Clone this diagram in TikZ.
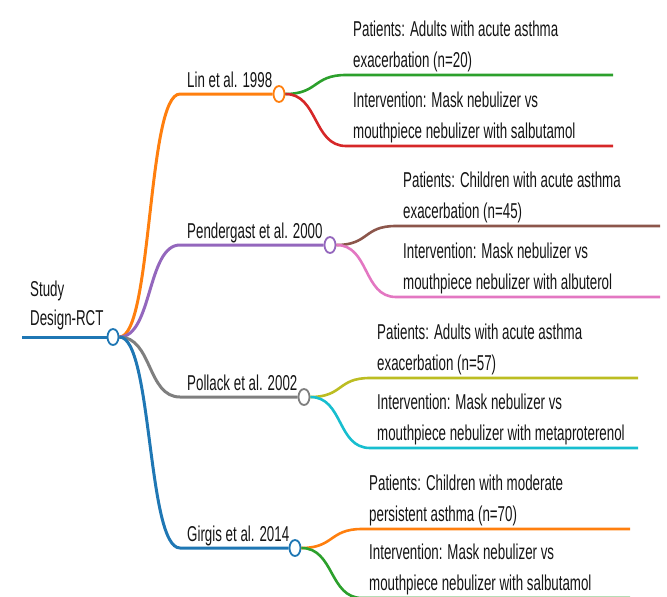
\documentclass[tikz,border=0pt]{standalone}
\usepackage{fontspec}
\setmainfont{Liberation Sans}[FakeStretch=0.62]
\usetikzlibrary{shapes.geometric}
\definecolor{cblue}{HTML}{1F77B4}
\definecolor{corange}{HTML}{FF7F0E}
\definecolor{cgreen}{HTML}{2CA02C}
\definecolor{cred}{HTML}{D62728}
\definecolor{cpurple}{HTML}{9467BD}
\definecolor{cbrown}{HTML}{8C564B}
\definecolor{cpink}{HTML}{E377C2}
\definecolor{cgray}{HTML}{7F7F7F}
\definecolor{colive}{HTML}{BCBD22}
\definecolor{ccyan}{HTML}{17BECF}
\begin{document}
\begin{tikzpicture}[x=1pt, y=-1pt, font=\fontsize{21.5}{31}\selectfont,
    link/.style={line width=3pt},
    leaflink/.style={line width=2.6pt},
    knob/.style={ellipse, draw=#1, fill=white, line width=1.8pt, minimum width=11pt, minimum height=16pt, inner sep=0pt},
    lbl/.style={anchor=base west, inner sep=0pt, text=black!92, align=left}]
  \useasboundingbox (0,0) rectangle (667,597);
  % root
  \node[knob=cblue] (root) at (113,337) {};
  \coordinate (root-in) at (22,337);
  \draw[link, cblue] (root-in) -- (root.west);
  \node[lbl, font=\fontsize{21.5}{29}\selectfont] (root-txt) at (30,325) {Study\\Design-RCT};
  % studies
  \foreach \n/\lab/\col/\y/\cx in {lin/{Lin et al. 1998}/corange/94/279,
      pen/{Pendergast et al. 2000}/cpurple/245/330,
      pol/{Pollack et al. 2002}/cgray/397/304,
      gir/{Girgis et al. 2014}/cblue/548/295} {
    \node[knob=\col] (\n) at (\cx,\y) {};
    \coordinate (\n-in) at (180,\y);
    \draw[link, \col] (root.east) .. controls +(33,0) and +(-33,0) .. (\n-in) -- (\n.west);
    \node[lbl] (\n-txt) at (187,\y-7) {\lab};
  }
  % patients / intervention
  \foreach \p/\col/\y/\sx/\ex/\txt [count=\i] in {
      lin/cgreen/75/346/613/{Patients: Adults with acute asthma\\exacerbation (n=20)},
      lin/cred/146/346/613/{Intervention: Mask nebulizer vs\\mouthpiece nebulizer with salbutamol},
      pen/cbrown/226/396/660/{Patients: Children with acute asthma\\exacerbation (n=45)},
      pen/cpink/297/396/660/{Intervention: Mask nebulizer vs\\mouthpiece nebulizer with albuterol},
      pol/colive/378/370/638/{Patients: Adults with acute asthma\\exacerbation (n=57)},
      pol/ccyan/448/370/638/{Intervention: Mask nebulizer vs\\mouthpiece nebulizer with metaproterenol},
      gir/corange/529/362/630/{Patients: Children with moderate\\persistent asthma (n=70)},
      gir/cgreen/598/362/630/{Intervention: Mask nebulizer vs\\mouthpiece nebulizer with salbutamol}} {
    \coordinate (leaf\i-in) at (\sx,\y);
    \coordinate (leaf\i-out) at (\ex,\y);
    \draw[leaflink, \col] (\p.east) .. controls +(33,0) and +(-33,0) .. (leaf\i-in) -- (leaf\i-out);
    \node[lbl] (leaf\i) at (\sx+7,\y-8) {\txt};
  }
\end{tikzpicture}
\end{document}
